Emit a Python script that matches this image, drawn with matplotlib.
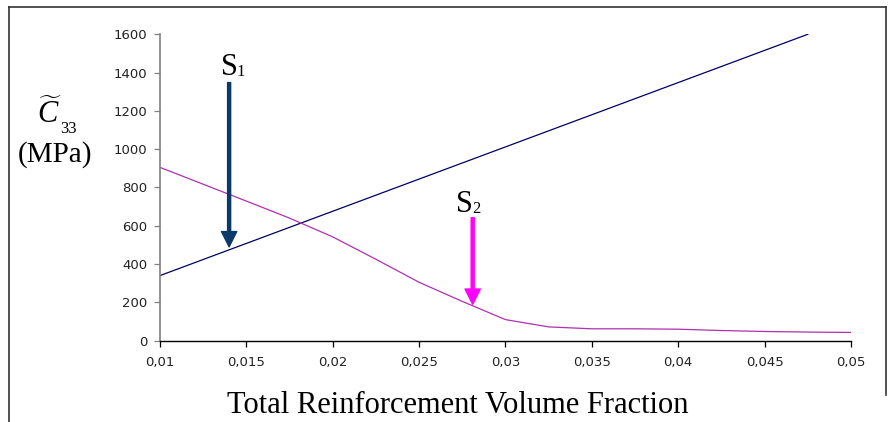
import matplotlib
matplotlib.use("Agg")
import matplotlib.pyplot as plt
from matplotlib.lines import Line2D

plt.rcParams["mathtext.fontset"] = "custom"
plt.rcParams["mathtext.rm"] = "Liberation Serif"
plt.rcParams["mathtext.it"] = "Liberation Serif:italic"

# data
vf_s1 = [0.01, 0.0475]
c33_s1 = [340, 1600]

vf_s2 = [0.01, 0.0125, 0.015, 0.0175, 0.02, 0.0225, 0.025, 0.0275, 0.03,
         0.0325, 0.035, 0.0375, 0.04, 0.0425, 0.045, 0.0475, 0.05]
c33_s2 = [905, 817, 729, 640, 542, 425, 305, 205, 110,
          72, 62, 62, 60, 53, 48, 45, 43]

x_ticks = [0.01, 0.015, 0.02, 0.025, 0.03, 0.035, 0.04, 0.045, 0.05]
x_tick_labels = ["0,01", "0,015", "0,02", "0,025", "0,03", "0,035", "0,04", "0,045", "0,05"]
y_ticks = [0, 200, 400, 600, 800, 1000, 1200, 1400, 1600]

# arrows: (x, tail y, tip y), label baseline position
arrow_s1 = (0.014, 1348, 490)
arrow_s2 = (0.0281, 642, 190)
label_s1 = (0.01399, 1388)
label_s2 = (0.02765, 672)

fig = plt.figure(figsize=(8.88, 4.22), dpi=100)
ax = fig.add_axes([0.1802, 0.1927, 0.9583 - 0.1802, 0.9187 - 0.1927])

ax.plot(vf_s1, c33_s1, color="#000060", linewidth=0.9)
ax.plot(vf_s2, c33_s2, color="#b030b0", linewidth=0.9)

ax.annotate("", xy=(arrow_s1[0], arrow_s1[2]), xytext=(arrow_s1[0], arrow_s1[1]),
            arrowprops=dict(width=2.2, headwidth=11, headlength=11, color="#0b3a6a", shrink=0))
ax.annotate("", xy=(arrow_s2[0], arrow_s2[2]), xytext=(arrow_s2[0], arrow_s2[1]),
            arrowprops=dict(width=2.2, headwidth=11, headlength=11, color="#ff00ff", shrink=0))


def s_label(pos, sub):
    ax.text(pos[0], pos[1], "S", fontfamily="Liberation Serif", fontsize=22,
            ha="center", va="baseline")
    ax.annotate(sub, xy=pos, xytext=(5.5, -1), textcoords="offset points",
                fontfamily="Liberation Serif", fontsize=12, ha="left", va="baseline")


s_label(label_s1, "1")
s_label(label_s2, "2")

ax.set_xlim(0.01, 0.05)
ax.set_ylim(0, 1600)
ax.set_xticks(x_ticks)
ax.set_xticklabels(x_tick_labels)
ax.set_yticks(y_ticks)
ax.tick_params(axis="both", direction="out", length=4, width=0.9,
               labelsize=9.5, labelcolor="#222222", pad=5)
ax.tick_params(axis="x", pad=7)
for side in ["top", "right"]:
    ax.spines[side].set_visible(False)
ax.spines["left"].set_color("#808080")
ax.spines["left"].set_linewidth(1.2)
ax.spines["bottom"].set_color("black")
ax.spines["bottom"].set_linewidth(1.0)
ax.tick_params(axis="y", color="#808080")

fig.text(458 / 888, 1 - 413 / 422, "Total Reinforcement Volume Fraction",
         fontfamily="Liberation Serif", fontsize=22, ha="center", va="baseline")
fig.text(49 / 888, 1 - 123 / 422, r"$\widetilde{C}$", fontsize=22, ha="center", va="baseline")
fig.text(60 / 888, 1 - 133 / 422, "33", fontfamily="Liberation Serif", fontsize=12,
         ha="left", va="baseline")
fig.text(55 / 888, 1 - 162 / 422, "(MPa)", fontfamily="Liberation Serif",
         fontsize=21, ha="center", va="baseline")

# outer frame (top, left, right)
fig.add_artist(Line2D([9 / 888, 886 / 888], [1 - 7 / 422, 1 - 7 / 422],
                      transform=fig.transFigure, color="#333333", linewidth=1.2))
fig.add_artist(Line2D([9 / 888, 9 / 888], [0, 1 - 7 / 422],
                      transform=fig.transFigure, color="#333333", linewidth=1.2))
fig.add_artist(Line2D([886 / 888, 886 / 888], [1 - 395 / 422, 1 - 7 / 422],
                      transform=fig.transFigure, color="#333333", linewidth=1.2))

fig.savefig("out.png", dpi=100)
